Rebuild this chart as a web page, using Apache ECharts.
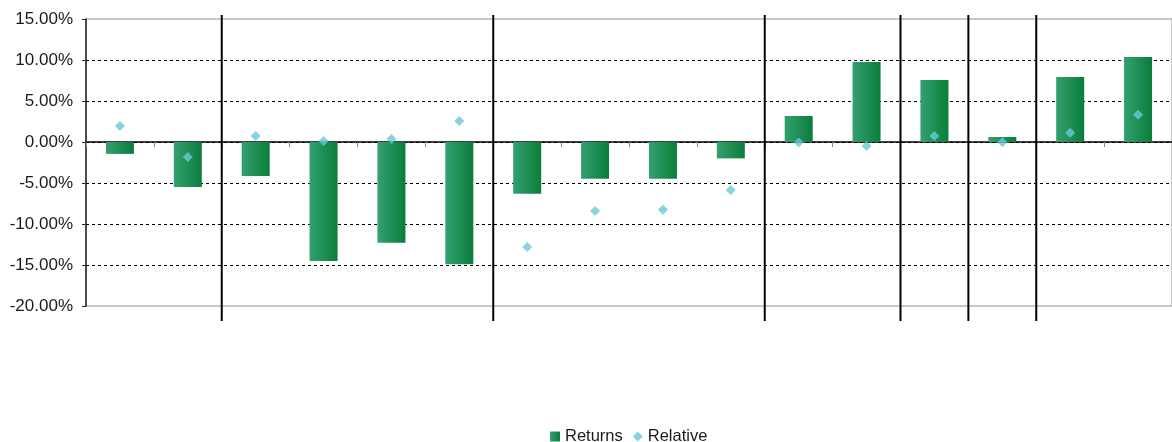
<!DOCTYPE html>
<html>
<head>
<meta charset="utf-8">
<script src="https://cdn.jsdelivr.net/npm/echarts@6/dist/echarts.min.js"></script>
<style>html,body{margin:0;padding:0;background:#fff}#c{width:1172px;height:442px}</style>
</head>
<body>
<div id="c"></div>
<script>
const categories = ['1','2','3','4','5','6','7','8','9','10','11','12','13','14','15','16'];
const returns = [-1.45, -5.5, -4.15, -14.5, -12.3, -14.9, -6.3, -4.47, -4.47, -2.0, 3.17, 9.76, 7.56, 0.61, 7.93, 10.37];
const relative = [1.95, -1.83, 0.73, 0.12, 0.37, 2.56, -12.8, -8.41, -8.25, -5.85, -0.05, -0.5, 0.73, -0.04, 1.14, 3.33];
const separators = [2, 6, 10, 12, 13, 14];
const yTicks = { min: -20, max: 15, interval: 5 };

const chart = echarts.init(document.getElementById('c'), null, { renderer: 'canvas' });
const barColor = new echarts.graphic.LinearGradient(0, 0, 1, 0, [
  { offset: 0, color: '#34a070' },
  { offset: 1, color: '#0a7d3a' }
]);
const font = 'Liberation Sans, Arial, sans-serif';
chart.setOption({
  animation: false,
  grid: { left: 86, right: 0, top: 19, bottom: 136, show: true, borderColor: '#b5b5b5', borderWidth: 1.5 },
  legend: {
    left: 545, top: 423, itemWidth: 10, itemHeight: 10, itemGap: 10,
    textStyle: { fontFamily: font, fontSize: 16.5, color: '#1a1a1a' },
    data: [
      { name: 'Returns', icon: 'rect', itemStyle: { color: barColor } },
      { name: 'Relative', icon: 'diamond', itemStyle: { color: '#6cc8da' } }
    ]
  },
  xAxis: [
    {
      type: 'category', data: categories,
      axisLine: { onZero: true, lineStyle: { color: '#000', width: 1.5 } },
      axisTick: { show: true, length: 5, lineStyle: { color: '#888' } },
      axisLabel: { show: false }, splitLine: { show: false }
    },
    { type: 'value', min: 0, max: categories.length, show: false }
  ],
  yAxis: {
    type: 'value', min: yTicks.min, max: yTicks.max, interval: yTicks.interval,
    axisLine: { show: true, lineStyle: { color: '#222', width: 1.5 } },
    axisTick: { show: true, length: 4, inside: false, lineStyle: { color: '#222' } },
    axisLabel: { fontFamily: font, fontSize: 17, color: '#1a1a1a', margin: 13, formatter: v => v.toFixed(2) + '%' },
    splitLine: { show: true, lineStyle: { type: [3, 3], width: 1,
      color: ['rgba(0,0,0,0)', '#000', '#000', '#000', '#000', '#000', '#000', 'rgba(0,0,0,0)'] } }
  },
  series: [
    {
      name: 'Returns', type: 'bar', data: returns, barWidth: 28,
      itemStyle: { color: barColor }, z: 2
    },
    {
      name: 'Relative', type: 'scatter', data: relative, symbol: 'diamond', symbolSize: 10,
      itemStyle: { color: '#6cc8da' }, z: 5
    },
    {
      name: 'sep', type: 'custom', xAxisIndex: 1, yAxisIndex: 0, silent: true, z: 4,
      data: separators.map(s => [s]),
      renderItem: function (params, api) {
        const x = api.value(0);
        const top = api.coord([x, yTicks.max]);
        const bot = api.coord([x, yTicks.min]);
        return { type: 'line', shape: { x1: top[0], y1: top[1] - 4, x2: top[0], y2: bot[1] + 15 },
          style: { stroke: '#000', lineWidth: 2 } };
      }
    }
  ]
});
</script>
</body>
</html>
